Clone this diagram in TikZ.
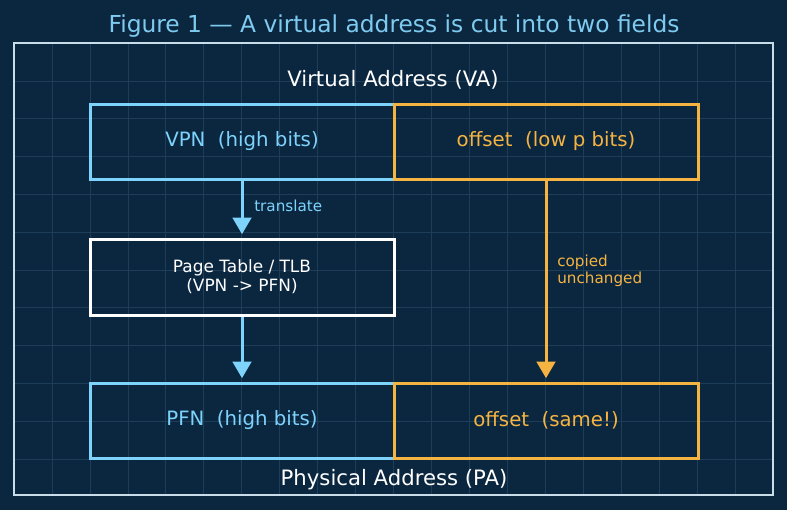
\documentclass[tikz,border=0pt]{standalone}
\usepackage{fontspec}
\setmainfont{DejaVu Sans}
\usetikzlibrary{arrows.meta}
\definecolor{bg}{HTML}{0B2740}
\definecolor{gridc}{HTML}{1E3D58}
\definecolor{titlec}{HTML}{7FCBF0}
\definecolor{vblue}{HTML}{7DD3FC}
\definecolor{vorange}{HTML}{F5B342}
\definecolor{framec}{HTML}{C8DCEA}
\tikzset{
  field/.style={draw, line width=2.25pt, minimum width=228pt, minimum height=56.25pt, inner sep=0pt, font=\fontsize{14.8}{17}\selectfont},
  bluefield/.style={field, draw=vblue, text=vblue},
  orangefield/.style={field, draw=vorange, text=vorange},
  tablebox/.style={draw=white, line width=2.25pt, minimum width=228pt, minimum height=57pt, inner sep=0pt, text=white, align=center, font=\fontsize{12.7}{14.5}\selectfont},
  heading/.style={text=white, font=\fontsize{15.9}{18}\selectfont},
  smalllabel/.style={font=\fontsize{11.4}{12.8}\selectfont, align=left, anchor=west, inner sep=0pt},
  flowarrow/.style={line width=2.25pt, -{Triangle[width=14pt,length=12.5pt]}},
  gridline/.style={draw=gridc, line width=0.6pt},
}
\begin{document}
\begin{tikzpicture}[x=0.75pt,y=-0.75pt]
\useasboundingbox (0,0) rectangle (787,510);
\fill[bg] (0,0) rectangle (787,510);
% grid
\foreach \k in {0,...,18} {\draw[gridline] ({52+37.95*\k},43) -- ({52+37.95*\k},495);}
\foreach \k in {0,...,10} {\draw[gridline] (14,{81+37.8*\k}) -- (773,{81+37.8*\k});}
% frame
\draw[framec, line width=1.5pt] (14,43) rectangle (773,495);
% title
\node[text=titlec, font=\fontsize{17.5}{20}\selectfont] (title) at (394,26) {Figure 1 — A virtual address is cut into two fields};
\node[heading] (va) at (393,80) {Virtual Address (VA)};
\node[heading] (pa) at (394,480) {Physical Address (PA)};
% boxes
\node[bluefield] (vpn) at (242,141.5) {\raisebox{-1pt}{VPN\ \ (high bits)}};
\node[orangefield] (voff) at (546,141.5) {\raisebox{-1pt}{offset\ \ (low p bits)}};
\node[tablebox] (pt) at (242,277) {Page Table / TLB\\(VPN -> PFN)};
\node[bluefield] (pfn) at (242,420.5) {\raisebox{-1pt}{PFN\ \ (high bits)}};
\node[orangefield] (poff) at (546,420.5) {\raisebox{-1pt}{offset\ \ (same!)}};
% arrows
\draw[flowarrow, vblue] (vpn.south) -- ([yshift=2.5pt]pt.north);
\draw[flowarrow, vblue] (pt.south) -- ([yshift=2.5pt]pfn.north);
\draw[flowarrow, vorange] (voff.south) -- ([yshift=2.5pt]poff.north);
% labels
\node[smalllabel, text=vblue] (tl) at (254,206) {translate};
\node[smalllabel, text=vorange] (cl) at (557,270.5) {copied\\unchanged};
\end{tikzpicture}
\end{document}
